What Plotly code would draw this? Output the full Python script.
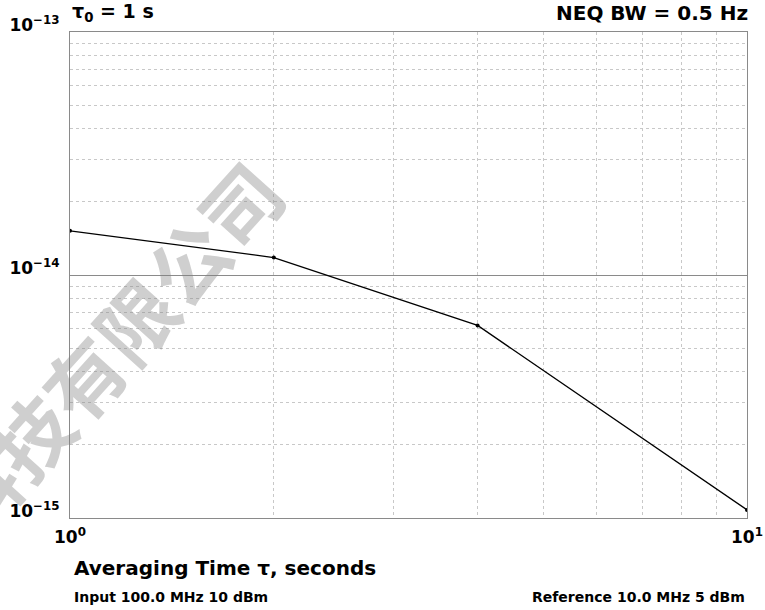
import plotly.graph_objects as go

# Data
tau = [1, 2, 4, 10]
adev = [1.52e-14, 1.18e-14, 6.2e-15, 1.08e-15]

x_tickvals = [1, 10]
x_ticktext = ["10<sup>0</sup>", "10<sup>1</sup>"]
y_tickvals = [1e-15, 1e-14, 1e-13]
y_ticktext = ["10<sup>−15</sup>", "10<sup>−14</sup>", "10<sup>−13</sup>"]
x_minor = [2, 3, 4, 5, 6, 7, 8, 9]
y_minor = [k * 1e-15 for k in range(2, 10)] + [k * 1e-14 for k in range(2, 10)]

FONT = "DejaVu Sans"
GRID = "#c8c8c8"
AXIS = "#8a8a8a"

fig = go.Figure()
fig.add_trace(go.Scatter(
    x=tau, y=adev, mode="lines+markers",
    line=dict(color="black", width=1.3),
    marker=dict(color="black", size=4),
    showlegend=False, hoverinfo="skip",
))

fig.update_layout(
    width=765, height=610,
    margin=dict(l=70, r=18, t=32, b=92, autoexpand=False),
    paper_bgcolor="white", plot_bgcolor="white",
    font=dict(family=FONT, color="black"),
    xaxis=dict(
        type="log", range=[0, 1], automargin=False,
        tickvals=x_tickvals, ticktext=x_ticktext,
        tickfont=dict(family=FONT, size=17, weight="bold", color="black"),
        ticks="", ticklabelstandoff=4,
        showgrid=False, zeroline=False,
        showline=True, mirror=True, linecolor=AXIS, linewidth=1,
        minor=dict(tickvals=x_minor, showgrid=True, gridcolor=GRID, griddash="dot", gridwidth=1, ticks=""),
    ),
    yaxis=dict(
        type="log", range=[-15, -13], automargin=False,
        tickvals=y_tickvals, ticktext=y_ticktext,
        tickfont=dict(family=FONT, size=17, weight="bold", color="black"),
        ticks="", ticklabelshift=-7, ticklabelstandoff=6,
        showgrid=True, gridcolor=AXIS, gridwidth=1, zeroline=False,
        showline=True, mirror=True, linecolor=AXIS, linewidth=1,
        minor=dict(tickvals=y_minor, showgrid=True, gridcolor=GRID, griddash="dot", gridwidth=1, ticks=""),
    ),
)

ann = []
# watermark
ann.append(dict(text="科技有限公司", xref="paper", yref="paper", x=(108 - 70) / 677, y=(518 - 348) / 486,
                xanchor="center", yanchor="middle", showarrow=False, textangle=-48,
                font=dict(family="Noto Sans CJK SC", size=78, weight="bold", color="rgba(128,128,128,0.38)")))
ann.append(dict(text="τ<sub>0</sub> = 1 s", xref="paper", yref="paper", x=0.0, y=1, yshift=5,
                xanchor="left", yanchor="bottom", showarrow=False,
                font=dict(family=FONT, size=19, weight="bold", color="black")))
ann.append(dict(text="NEQ BW = 0.5 Hz", xref="paper", yref="paper", x=1, xshift=3, y=1, yshift=5,
                xanchor="right", yanchor="bottom", showarrow=False,
                font=dict(family=FONT, size=20, weight="bold", color="black")))
ann.append(dict(text="Averaging Time τ, seconds", xref="paper", yref="paper", x=0.003, y=0, yshift=-36,
                xanchor="left", yanchor="top", showarrow=False,
                font=dict(family=FONT, size=20, weight="bold", color="black")))
ann.append(dict(text="Input 100.0 MHz 10 dBm", xref="paper", yref="paper", x=0.003, y=0, yshift=-69,
                xanchor="left", yanchor="top", showarrow=False,
                font=dict(family=FONT, size=14, weight="bold", color="black")))
ann.append(dict(text="Reference 10.0 MHz 5 dBm", xref="paper", yref="paper", x=1, y=0, yshift=-69,
                xanchor="right", yanchor="top", showarrow=False,
                font=dict(family=FONT, size=14, weight="bold", color="black")))
fig.update_layout(annotations=ann)

fig.write_html("out.html", config={"displayModeBar": False},
               post_script="document.body.style.margin='0';document.body.style.overflow='hidden';")
